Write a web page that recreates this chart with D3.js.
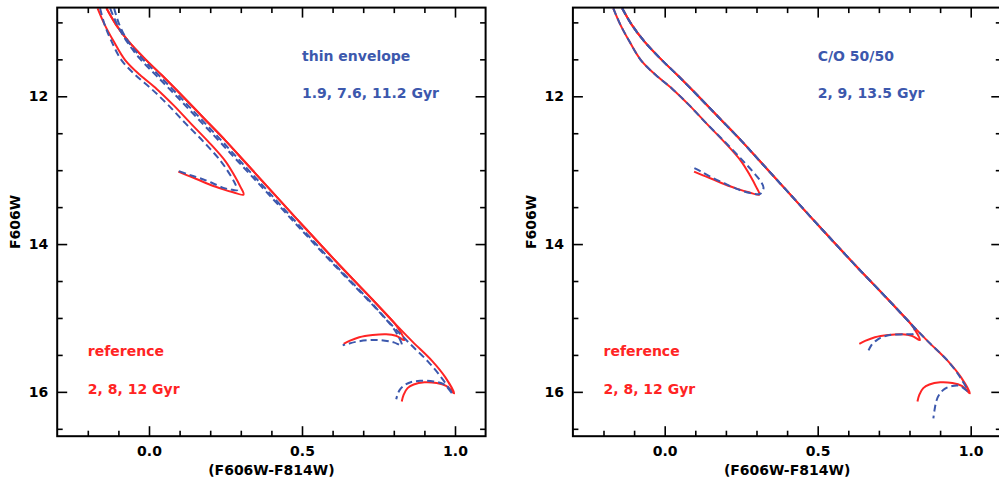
<!DOCTYPE html>
<html>
<head>
<meta charset="utf-8">
<script src="https://cdn.jsdelivr.net/npm/d3@7"></script>
<style>
  body { margin: 0; background: #fff; }
  svg text { font-family: "DejaVu Sans", sans-serif; font-weight: bold; font-size: 14px; }
</style>
</head>
<body>
<script>
// axis ranges and ticks
const xDomain = [-0.3, 1.1];
const yDomain = [10.8, 16.6];
const xMajor = [0.0, 0.5, 1.0];
const xMinor = [-0.2, -0.1, 0.1, 0.2, 0.3, 0.4, 0.6, 0.7, 0.8, 0.9];
const yMajor = [12, 14, 16];
const yMinor = [11, 11.5, 12.5, 13, 13.5, 14.5, 15, 15.5, 16.5];

// reference isochrones (2, 8, 12 Gyr) : [F606W-F814W, F606W]
const ref2 = [[-0.168,10.81],[-0.145,11.03],[-0.115,11.26],[-0.078,11.51],[-0.030,11.71],[0.025,11.90],[0.080,12.12],[0.137,12.37],[0.193,12.61],[0.250,12.88],[0.280,13.08],[0.298,13.22],[0.309,13.33],[0.275,13.30],[0.235,13.25],[0.196,13.19],[0.155,13.12],[0.125,13.07],[0.096,13.02]];
const ref8 = [[-0.139,10.81],[-0.108,11.03],[-0.066,11.26],[-0.014,11.49],[0.043,11.72],[0.110,12.00],[0.180,12.30],[0.250,12.60],[0.316,12.90],[0.404,13.30],[0.514,13.80],[0.626,14.30],[0.730,14.75],[0.780,14.97],[0.804,15.08],[0.822,15.19],[0.834,15.30],[0.807,15.24],[0.775,15.22],[0.731,15.23],[0.687,15.26],[0.655,15.31],[0.636,15.35]];
const ref12 = [[-0.139,10.81],[-0.108,11.03],[-0.066,11.26],[-0.014,11.49],[0.043,11.72],[0.110,12.00],[0.180,12.30],[0.250,12.60],[0.316,12.90],[0.404,13.30],[0.514,13.80],[0.626,14.30],[0.730,14.75],[0.800,15.06],[0.861,15.32],[0.925,15.58],[0.968,15.80],[0.997,16.02],[0.971,15.92],[0.940,15.88],[0.900,15.87],[0.865,15.90],[0.845,15.95],[0.832,16.04],[0.826,16.13]];

// thin envelope (1.9, 7.6, 11.2 Gyr)
const thin19 = [[-0.160,10.81],[-0.145,11.03],[-0.122,11.26],[-0.090,11.51],[-0.045,11.71],[0.008,11.90],[0.063,12.12],[0.120,12.37],[0.177,12.61],[0.235,12.88],[0.266,13.07],[0.282,13.19],[0.288,13.27],[0.265,13.26],[0.243,13.24],[0.205,13.17],[0.167,13.11],[0.130,13.06],[0.096,13.01]];
const thin76 = [[-0.127,10.81],[-0.104,11.03],[-0.072,11.26],[-0.030,11.49],[0.024,11.72],[0.090,12.00],[0.159,12.30],[0.228,12.60],[0.295,12.90],[0.385,13.30],[0.496,13.80],[0.609,14.30],[0.714,14.75],[0.768,14.99],[0.797,15.13],[0.815,15.25],[0.826,15.37],[0.800,15.33],[0.760,15.30],[0.720,15.30],[0.680,15.32],[0.650,15.35],[0.633,15.37]];
const thin112 = [[-0.114,10.81],[-0.097,11.03],[-0.068,11.26],[-0.022,11.49],[0.033,11.72],[0.099,12.00],[0.168,12.30],[0.237,12.60],[0.303,12.90],[0.392,13.30],[0.502,13.80],[0.613,14.30],[0.717,14.75],[0.785,15.06],[0.848,15.33],[0.912,15.59],[0.958,15.82],[0.992,16.03],[0.965,15.90],[0.930,15.86],[0.886,15.85],[0.855,15.87],[0.835,15.91],[0.820,15.97],[0.812,16.04],[0.808,16.10]];

// C/O 50/50 (2, 9, 13.5 Gyr)
const co2 = [[-0.168,10.81],[-0.145,11.03],[-0.115,11.26],[-0.078,11.51],[-0.030,11.71],[0.025,11.90],[0.080,12.12],[0.137,12.37],[0.195,12.61],[0.255,12.87],[0.290,13.03],[0.315,13.16],[0.323,13.24],[0.312,13.32],[0.280,13.31],[0.240,13.26],[0.196,13.18],[0.150,13.09],[0.115,13.01],[0.085,12.95]];
const co9 = [[-0.139,10.81],[-0.108,11.03],[-0.066,11.26],[-0.014,11.49],[0.043,11.72],[0.110,12.00],[0.180,12.30],[0.250,12.60],[0.316,12.90],[0.404,13.30],[0.514,13.80],[0.626,14.30],[0.730,14.75],[0.780,14.97],[0.803,15.07],[0.816,15.15],[0.815,15.21],[0.790,15.22],[0.736,15.23],[0.705,15.27],[0.690,15.31],[0.675,15.37],[0.665,15.45]];
const co135 = [[-0.139,10.81],[-0.108,11.03],[-0.066,11.26],[-0.014,11.49],[0.043,11.72],[0.110,12.00],[0.180,12.30],[0.250,12.60],[0.316,12.90],[0.404,13.30],[0.514,13.80],[0.626,14.30],[0.730,14.75],[0.800,15.06],[0.861,15.32],[0.925,15.58],[0.965,15.80],[0.990,15.99],[0.965,15.92],[0.940,15.92],[0.915,15.96],[0.898,16.03],[0.888,16.12],[0.882,16.24],[0.878,16.36]];

// labels
const refLabel = ["reference", "2, 8, 12 Gyr"];
const modelLabels = [["thin envelope", "1.9, 7.6, 11.2 Gyr"], ["C/O 50/50", "2, 9, 13.5 Gyr"]];
const xTitle = "(F606W-F814W)";
const yTitle = "F606W";

const red = "#ff2424", blue = "#3c58ad";
const refs = [ref2, ref8, ref12];
const models = [[thin19, thin76, thin112], [co2, co9, co135]];

var width = 999, height = 481;
var svg = d3.select("body").append("svg")
    .attr("width", width)
    .attr("height", height);

var panels = [{ left: 57.2, right: 485.6 }, { left: 572.9, right: 1001.3 }];
var plotTop = 7.6, plotBottom = 436.2;

panels.forEach((p, i) => {
    var x = d3.scaleLinear().domain(xDomain).range([p.left, p.right]);
    var y = d3.scaleLinear().domain(yDomain).range([plotTop, plotBottom]);
    var g = svg.append("g");

    g.append("clipPath").attr("id", "clip" + i)
        .append("rect")
        .attr("x", p.left).attr("y", plotTop)
        .attr("width", p.right - p.left).attr("height", plotBottom - plotTop);

    var line = d3.line()
        .x(d => x(d[0]))
        .y(d => y(d[1]))
        .curve(d3.curveCatmullRom.alpha(0.5));

    var plot = g.append("g").attr("clip-path", "url(#clip" + i + ")");

    plot.selectAll(".ref")
        .data(refs)
        .enter().append("path")
        .attr("class", "ref")
        .attr("d", line)
        .attr("fill", "none")
        .attr("stroke", red)
        .attr("stroke-width", 2);

    plot.selectAll(".model")
        .data(models[i])
        .enter().append("path")
        .attr("class", "model")
        .attr("d", line)
        .attr("fill", "none")
        .attr("stroke", blue)
        .attr("stroke-width", 2)
        .attr("stroke-dasharray", "7,4");

    // ticks on all four sides, pointing inwards
    const addAxis = (axis, vals, size, pad, fmt, tr) => {
        g.append("g")
            .attr("transform", tr)
            .call(axis.tickValues(vals).tickSize(size).tickSizeOuter(0).tickPadding(pad).tickFormat(fmt))
            .call(a => a.select(".domain").remove())
            .call(a => a.selectAll("line").attr("stroke-width", 1.6));
    };
    const none = () => "";
    addAxis(d3.axisBottom(x), xMajor, -10, 10, d3.format(".1f"), "translate(0," + plotBottom + ")");
    addAxis(d3.axisBottom(x), xMinor, -5.5, 10, none, "translate(0," + plotBottom + ")");
    addAxis(d3.axisTop(x), xMajor, -10, 10, none, "translate(0," + plotTop + ")");
    addAxis(d3.axisTop(x), xMinor, -5.5, 10, none, "translate(0," + plotTop + ")");
    addAxis(d3.axisLeft(y), yMajor, -10, 9, d3.format("d"), "translate(" + p.left + ",0)");
    addAxis(d3.axisLeft(y), yMinor, -5.5, 9, none, "translate(" + p.left + ",0)");
    addAxis(d3.axisRight(y), yMajor, -10, 9, none, "translate(" + p.right + ",0)");
    addAxis(d3.axisRight(y), yMinor, -5.5, 9, none, "translate(" + p.right + ",0)");

    g.append("rect")
        .attr("x", p.left).attr("y", plotTop)
        .attr("width", p.right - p.left).attr("height", plotBottom - plotTop)
        .attr("fill", "none")
        .attr("stroke", "#000")
        .attr("stroke-width", 2);

    g.append("text")
        .attr("x", (p.left + p.right) / 2)
        .attr("y", 474.5)
        .attr("text-anchor", "middle")
        .text(xTitle);

    g.append("text")
        .attr("transform", "translate(" + (p.left - 37) + "," + ((plotTop + plotBottom) / 2) + ") rotate(-90)")
        .attr("text-anchor", "middle")
        .text(yTitle);

    // annotations
    g.append("text").attr("x", x(0.5)).attr("y", y(11.52)).attr("fill", blue).text(modelLabels[i][0]);
    g.append("text").attr("x", x(0.5)).attr("y", y(12.02)).attr("fill", blue).text(modelLabels[i][1]);
    g.append("text").attr("x", x(-0.2)).attr("y", y(15.52)).attr("fill", red).text(refLabel[0]);
    g.append("text").attr("x", x(-0.2)).attr("y", y(16.03)).attr("fill", red).text(refLabel[1]);
});
</script>
</body>
</html>
